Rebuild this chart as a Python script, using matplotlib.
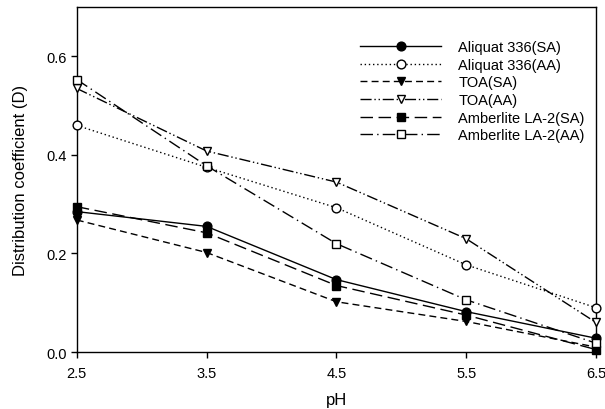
import matplotlib
matplotlib.use('Agg')
import matplotlib.pyplot as plt

plt.rcParams['font.family'] = ['Liberation Sans', 'DejaVu Sans']

ph = [2.5, 3.5, 4.5, 5.5, 6.5]
aliquat_sa = [0.285, 0.255, 0.147, 0.082, 0.028]
aliquat_aa = [0.460, 0.375, 0.293, 0.177, 0.090]
toa_sa = [0.268, 0.202, 0.102, 0.062, 0.010]
toa_aa = [0.535, 0.408, 0.345, 0.230, 0.060]
amber_sa = [0.295, 0.242, 0.135, 0.075, 0.005]
amber_aa = [0.553, 0.378, 0.220, 0.106, 0.018]

series = [
    ('Aliquat 336(SA)', aliquat_sa, 'o', 'k', '-'),
    ('Aliquat 336(AA)', aliquat_aa, 'o', 'white', (0, (1, 2))),
    ('TOA(SA)', toa_sa, 'v', 'k', (0, (5, 3))),
    ('TOA(AA)', toa_aa, 'v', 'white', (0, (8, 2, 1, 2, 1, 2))),
    ('Amberlite LA-2(SA)', amber_sa, 's', 'k', (0, (9, 4))),
    ('Amberlite LA-2(AA)', amber_aa, 's', 'white', (0, (9, 3, 1, 3))),
]

fig = plt.figure(figsize=(6.05, 4.1), dpi=100)
ax = fig.add_axes([0.127, 0.139, 0.858, 0.841])

for label, vals, mk, fc, ls in series:
    ax.plot(ph, vals, color='k', linestyle=ls, linewidth=1.0, marker=mk,
            markersize=6.3, markerfacecolor=fc, markeredgecolor='k',
            markeredgewidth=1.0, label=label, clip_on=False, zorder=3)

ax.set_xlim(2.5, 6.5)
ax.set_ylim(0, 0.7)
ax.set_xticks(ph)
ax.set_xticklabels(['2.5', '3.5', '4.5', '5.5', '6.5'])
ax.set_yticks([0.0, 0.2, 0.4, 0.6])
ax.set_yticklabels(['0.0', '0.2', '0.4', '0.6'])
ax.tick_params(axis='both', labelsize=10.5, direction='out', length=4, width=1)
ax.tick_params(axis='x', pad=6)
for s in ax.spines.values():
    s.set_linewidth(1.0)

ax.set_xlabel('pH', fontsize=12, labelpad=9)
ax.set_ylabel('Distribution coefficient (D)', fontsize=12, labelpad=13)

ax.legend(loc='upper right', bbox_to_anchor=(0.995, 0.93), frameon=False,
          fontsize=10.5, handlelength=5.5, handletextpad=1.2,
          labelspacing=0.25, borderaxespad=0.2)

fig.savefig('out.png', dpi=100)
